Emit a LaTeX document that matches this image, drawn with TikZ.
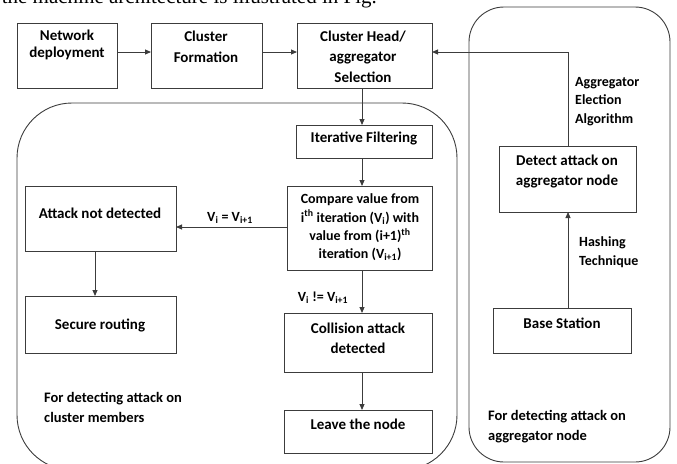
\documentclass[tikz,border=0pt]{standalone}
\usepackage{fontspec}
\setmainfont{Carlito}
\newfontfamily\capfont{Liberation Serif}
\usetikzlibrary{arrows.meta}
\definecolor{linec}{HTML}{3C3C3C}
\begin{document}
\begin{tikzpicture}[x=1pt,y=-1pt,
  box/.style={draw=linec, line width=0.9pt, anchor=north west, inner sep=0pt, outer sep=0pt},
  btxt/.style={font=\fontsize{15}{#1}\selectfont\bfseries, align=center, inner sep=0pt},
  btxt/.default=18,
  lbl/.style={font=\fontsize{14}{#1}\selectfont\bfseries, align=left, inner sep=0pt, anchor=west},
  lbl/.default=18.5,
  conn/.style={draw=linec, line width=0.9pt, -{Triangle[length=6pt,width=5pt]}},
  region/.style={draw=linec, line width=0.9pt}]
\useasboundingbox (0,0) rectangle (677,463);
\clip (0,0) rectangle (677,463);

% caption fragment at the top (cut off by the picture's edge)
\node[overlay, font=\capfont\fontsize{21}{21}\selectfont, anchor=base east, inner sep=0pt] (cap) at (377,4) {the machine architecture is illustrated in Fig.};

% regions
\draw[region, rounded corners=55pt] (17,103) rectangle (457,470);
\draw[region, rounded corners=35pt] (469,7) rectangle (670,462);

% boxes
\node[box, minimum width=100pt, minimum height=65pt] (nd) at (17,23) {};
\node[box, minimum width=111pt, minimum height=65pt] (cf) at (151,23) {};
\node[box, minimum width=135pt, minimum height=65pt] (ch) at (297,23) {};
\node[box, minimum width=136pt, minimum height=33pt] (itf) at (296,125) {};
\node[box, minimum width=145pt, minimum height=84pt] (cmp) at (287,186) {};
\node[box, minimum width=151pt, minimum height=65pt] (and) at (25,186) {};
\node[box, minimum width=151pt, minimum height=57pt] (sr) at (25,296) {};
\node[box, minimum width=148pt, minimum height=59pt] (cad) at (284,313) {};
\node[box, minimum width=148pt, minimum height=43pt] (ltn) at (284,410) {};
\node[box, minimum width=137pt, minimum height=66pt] (dat) at (499,146) {};
\node[box, minimum width=138pt, minimum height=45pt] (bs) at (493,308) {};

% box texts
\node[btxt=17] (ndt) at (67,44.5) {Network\\deployment};
\node[btxt=21] (cft) at (206,46.5) {Cluster\\Formation};
\node[btxt=20.5] (cht) at (363,56.5) {Cluster Head/\\aggregator\\Selection};
\node[btxt] (itft) at (364,138) {Iterative Filtering};
\node[btxt=18.3, font=\fontsize{14}{18.3}\selectfont\bfseries] (cmpt) at (360,227.5) {Compare value from\\i\textsuperscript{th} iteration (V\textsubscript{i}) with\\value from (i+1)\textsuperscript{th}\\iteration (V\textsubscript{i+1})};
\node[btxt] (andt) at (100,213) {Attack not detected};
\node[btxt] (srt) at (100,325) {Secure routing};
\node[btxt=20] (cadt) at (358,338) {Collision attack\\detected};
\node[btxt] (ltnt) at (358,424) {Leave the node};
\node[btxt=20] (datt) at (567,172) {Detect attack on\\aggregator node};
\node[btxt] (bst) at (562,323) {Base Station};

% labels
\node[lbl, anchor=center] (eq) at (230,218) {V\textsubscript{i} = V\textsubscript{i+1}};
\node[lbl, anchor=center] (neq) at (323,298) {V\textsubscript{i} != V\textsubscript{i+1}};
\node[lbl] (agg) at (575,101.5) {Aggregator\\Election\\Algorithm};
\node[lbl=19] (hash) at (579,252.5) {Hashing\\Technique};
\node[lbl=20, font=\fontsize{14.5}{20}\selectfont\bfseries] (fcm) at (44,407) {For detecting attack on\\cluster members};
\node[lbl=20, font=\fontsize{14.5}{20}\selectfont\bfseries] (fag) at (488,426.5) {For detecting attack on\\aggregator node};

% connectors
\coordinate (toprow) at (0,52);
\coordinate (eqrow) at (0,227);
\coordinate (lcol) at (95,0);
\coordinate (mcol) at (362,0);
\coordinate (rcol) at (568,0);
\draw[conn] (nd.east |- toprow) -- (cf.west |- toprow);
\draw[conn] (cf.east |- toprow) -- (ch.west |- toprow);
\draw[conn] (ch.south -| mcol) -- (itf.north -| mcol);
\draw[conn] (itf.south -| mcol) -- (cmp.north -| mcol);
\draw[conn] (cmp.west |- eqrow) -- (and.east |- eqrow);
\draw[conn] (and.south -| lcol) -- (sr.north -| lcol);
\draw[conn] (cmp.south -| mcol) -- (cad.north -| mcol);
\draw[conn] (cad.south -| mcol) -- (ltn.north -| mcol);
\draw[conn] (dat.north -| rcol) |- (ch.east |- toprow);
\draw[conn] (bs.north -| rcol) -- (dat.south -| rcol);
\end{tikzpicture}
\end{document}
